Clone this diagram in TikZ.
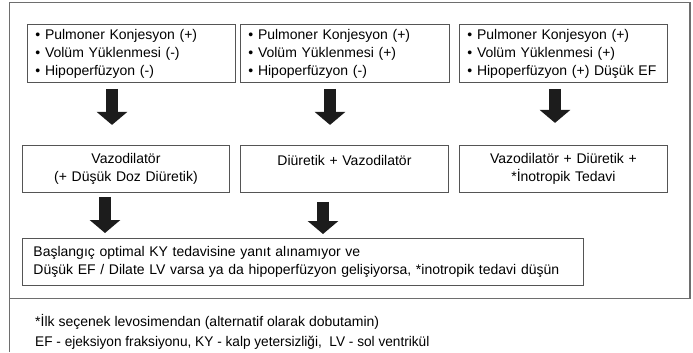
\documentclass[tikz,border=0pt]{standalone}
\usepackage{fontspec}
\setmainfont{Liberation Sans}
\usetikzlibrary{arrows.meta,calc}

\definecolor{boxline}{HTML}{555555}
\definecolor{frameline}{HTML}{6E6E6E}
\definecolor{arrowfill}{HTML}{1C1C1C}

\tikzset{
  stagebox/.style={draw=boxline, line width=0.9bp, anchor=north west,
    inner ysep=0pt, font=\fontsize{14bp}{18bp}\selectfont},
  listbox/.style={stagebox, align=left, inner xsep=8bp, text width=192bp,
    minimum height=58bp},
  treatbox/.style={stagebox, align=center, inner xsep=6bp, minimum height=47bp},
  notetext/.style={anchor=west, inner sep=0pt, font=\fontsize{14bp}{18bp}\selectfont},
  blockarrow/.style={draw=arrowfill, line width=12bp,
    -{Triangle[width=30bp,length=13bp,fill=arrowfill]}},
}

\begin{document}
\begin{tikzpicture}[x=1bp,y=-1bp]
\useasboundingbox (0,0) rectangle (693,352);

% outer frame with the divider above the footnotes
\draw[frameline, line width=1.5bp] (9.5,352) -- (9.5,2.5) -- (690,2.5) -- (690,298.5);
\draw[frameline, line width=1.2bp] (9.5,298.5) -- (690,298.5);

% first row: clinical findings
\node[listbox] (a1) at (27,24)
  {• Pulmoner Konjesyon (+)\\• Volüm Yüklenmesi (-)\\• Hipoperfüzyon (-)};
\node[listbox, text width=193bp] (a2) at (240,24)
  {• Pulmoner Konjesyon (+)\\• Volüm Yüklenmesi (+)\\• Hipoperfüzyon (-)};
\node[listbox] (a3) at (459,24)
  {• Pulmoner Konjesyon (+)\\• Volüm Yüklenmesi (+)\\• Hipoperfüzyon (+) Düşük EF};

% second row: treatment
\node[treatbox, text width=195bp] (b1) at (22,145)
  {Vazodilatör\\(+ Düşük Doz Diüretik)};
\node[treatbox, text width=196bp] (b2) at (240,145)
  {Diüretik + Vazodilatör\\\mbox{}};
\node[treatbox, text width=196bp] (b3) at (459,145)
  {Vazodilatör + Diüretik +\\{*}İnotropik Tedavi};

% third row: follow-up
\node[stagebox, align=left, inner xsep=11bp, text width=539bp, minimum height=47bp] (c) at (22,238)
  {Başlangıç optimal KY tedavisine yanıt alınamıyor ve\\
   Düşük EF / Dilate LV varsa ya da hipoperfüzyon gelişiyorsa, *inotropik tedavi düşün};

% arrow end points
\coordinate (a1s) at ($(a1.south west)+(85,6)$);
\coordinate (a1e) at ($(a1.south west)+(85,42)$);
\coordinate (a2s) at ($(a2.south west)+(90,6)$);
\coordinate (a2e) at ($(a2.south west)+(90,42)$);
\coordinate (a3s) at ($(a3.south west)+(96,6)$);
\coordinate (a3e) at ($(a3.south west)+(96,40)$);
\coordinate (b1s) at ($(b1.south west)+(83,4)$);
\coordinate (b1e) at ($(c.north west)+(83,-5)$);
\coordinate (b2s) at ($(b2.south west)+(83,9)$);
\coordinate (b2e) at ($(c.north west)+(301,-4)$);

\draw[blockarrow] (a1s) -- (a1e);
\draw[blockarrow] (a2s) -- (a2e);
\draw[blockarrow] (a3s) -- (a3e);
\draw[blockarrow] (b1s) -- (b1e);
\draw[blockarrow] (b2s) -- (b2e);

% footnotes
\node[notetext] (n1) at (35,322) {*İlk seçenek levosimendan (alternatif olarak dobutamin)};
\node[notetext] (n2) at (35,343)
  {\scalebox{0.975}[1]{EF - ejeksiyon fraksiyonu, KY - kalp yetersizliği,\ \ LV - sol ventrikül}};
\end{tikzpicture}
\end{document}
